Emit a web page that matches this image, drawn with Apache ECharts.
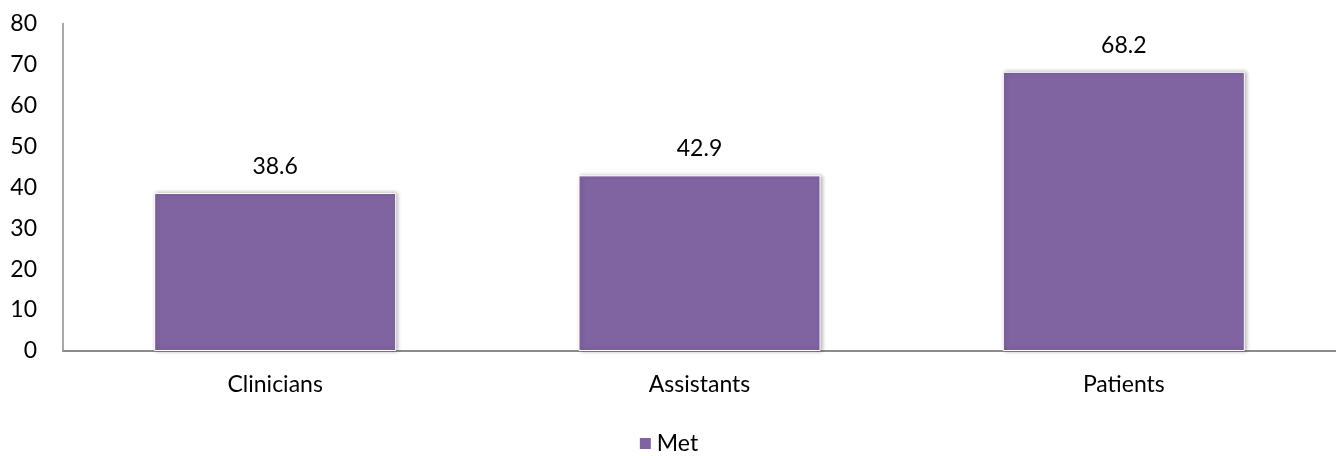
<!DOCTYPE html>
<html>
<head>
<meta charset="utf-8">
<script src="https://cdn.jsdelivr.net/npm/echarts@6/dist/echarts.min.js"></script>
<style>
  html, body { margin: 0; padding: 0; background: #fff; }
  #chart { width: 1336px; height: 456px; }
</style>
</head>
<body>
<div id="chart"></div>
<script>
// Share of respondents who met the criterion, by group
const categories = ['Clinicians', 'Assistants', 'Patients'];
const metValues = [38.6, 42.9, 68.2];
const yTicks = { min: 0, max: 80, interval: 10 };

const fontFamily = 'Lato, "Open Sans", sans-serif';
const textColor = '#000';
const fontSize = 23;

const chart = echarts.init(document.getElementById('chart'));
chart.setOption({
  animation: false,
  textStyle: { fontFamily: fontFamily },
  grid: { left: 63, right: -3, top: 23.5, bottom: 105, containLabel: false },
  legend: {
    data: ['Met'],
    top: 432,
    left: 'center',
    padding: 0,
    icon: 'rect',
    itemWidth: 13,
    itemHeight: 13,
    itemGap: 9,
    textStyle: { fontSize: fontSize, color: textColor, fontFamily: fontFamily }
  },
  xAxis: {
    type: 'category',
    data: categories,
    axisLine: { lineStyle: { color: '#8c8c8c', width: 2 } },
    axisTick: { show: false },
    axisLabel: { color: textColor, fontSize: fontSize, margin: 22, fontFamily: fontFamily },
    splitLine: { show: false }
  },
  yAxis: {
    type: 'value',
    min: yTicks.min,
    max: yTicks.max,
    interval: yTicks.interval,
    axisLine: { show: true, lineStyle: { color: '#8c8c8c', width: 1.5 } },
    axisTick: { show: false },
    axisLabel: { color: textColor, fontSize: fontSize, margin: 26, fontFamily: fontFamily },
    splitLine: { show: false }
  },
  series: [{
    name: 'Met',
    type: 'bar',
    data: metValues,
    barWidth: 242,
    itemStyle: {
      color: '#8064A2',
      borderColor: '#ffffff',
      borderWidth: 1,
      shadowBlur: 4,
      shadowColor: 'rgba(0,0,0,0.3)',
      shadowOffsetX: 1.5,
      shadowOffsetY: 0
    },
    label: {
      show: true,
      position: 'top',
      distance: 15,
      color: textColor,
      fontSize: fontSize,
      fontFamily: fontFamily
    }
  }]
});
</script>
</body>
</html>
